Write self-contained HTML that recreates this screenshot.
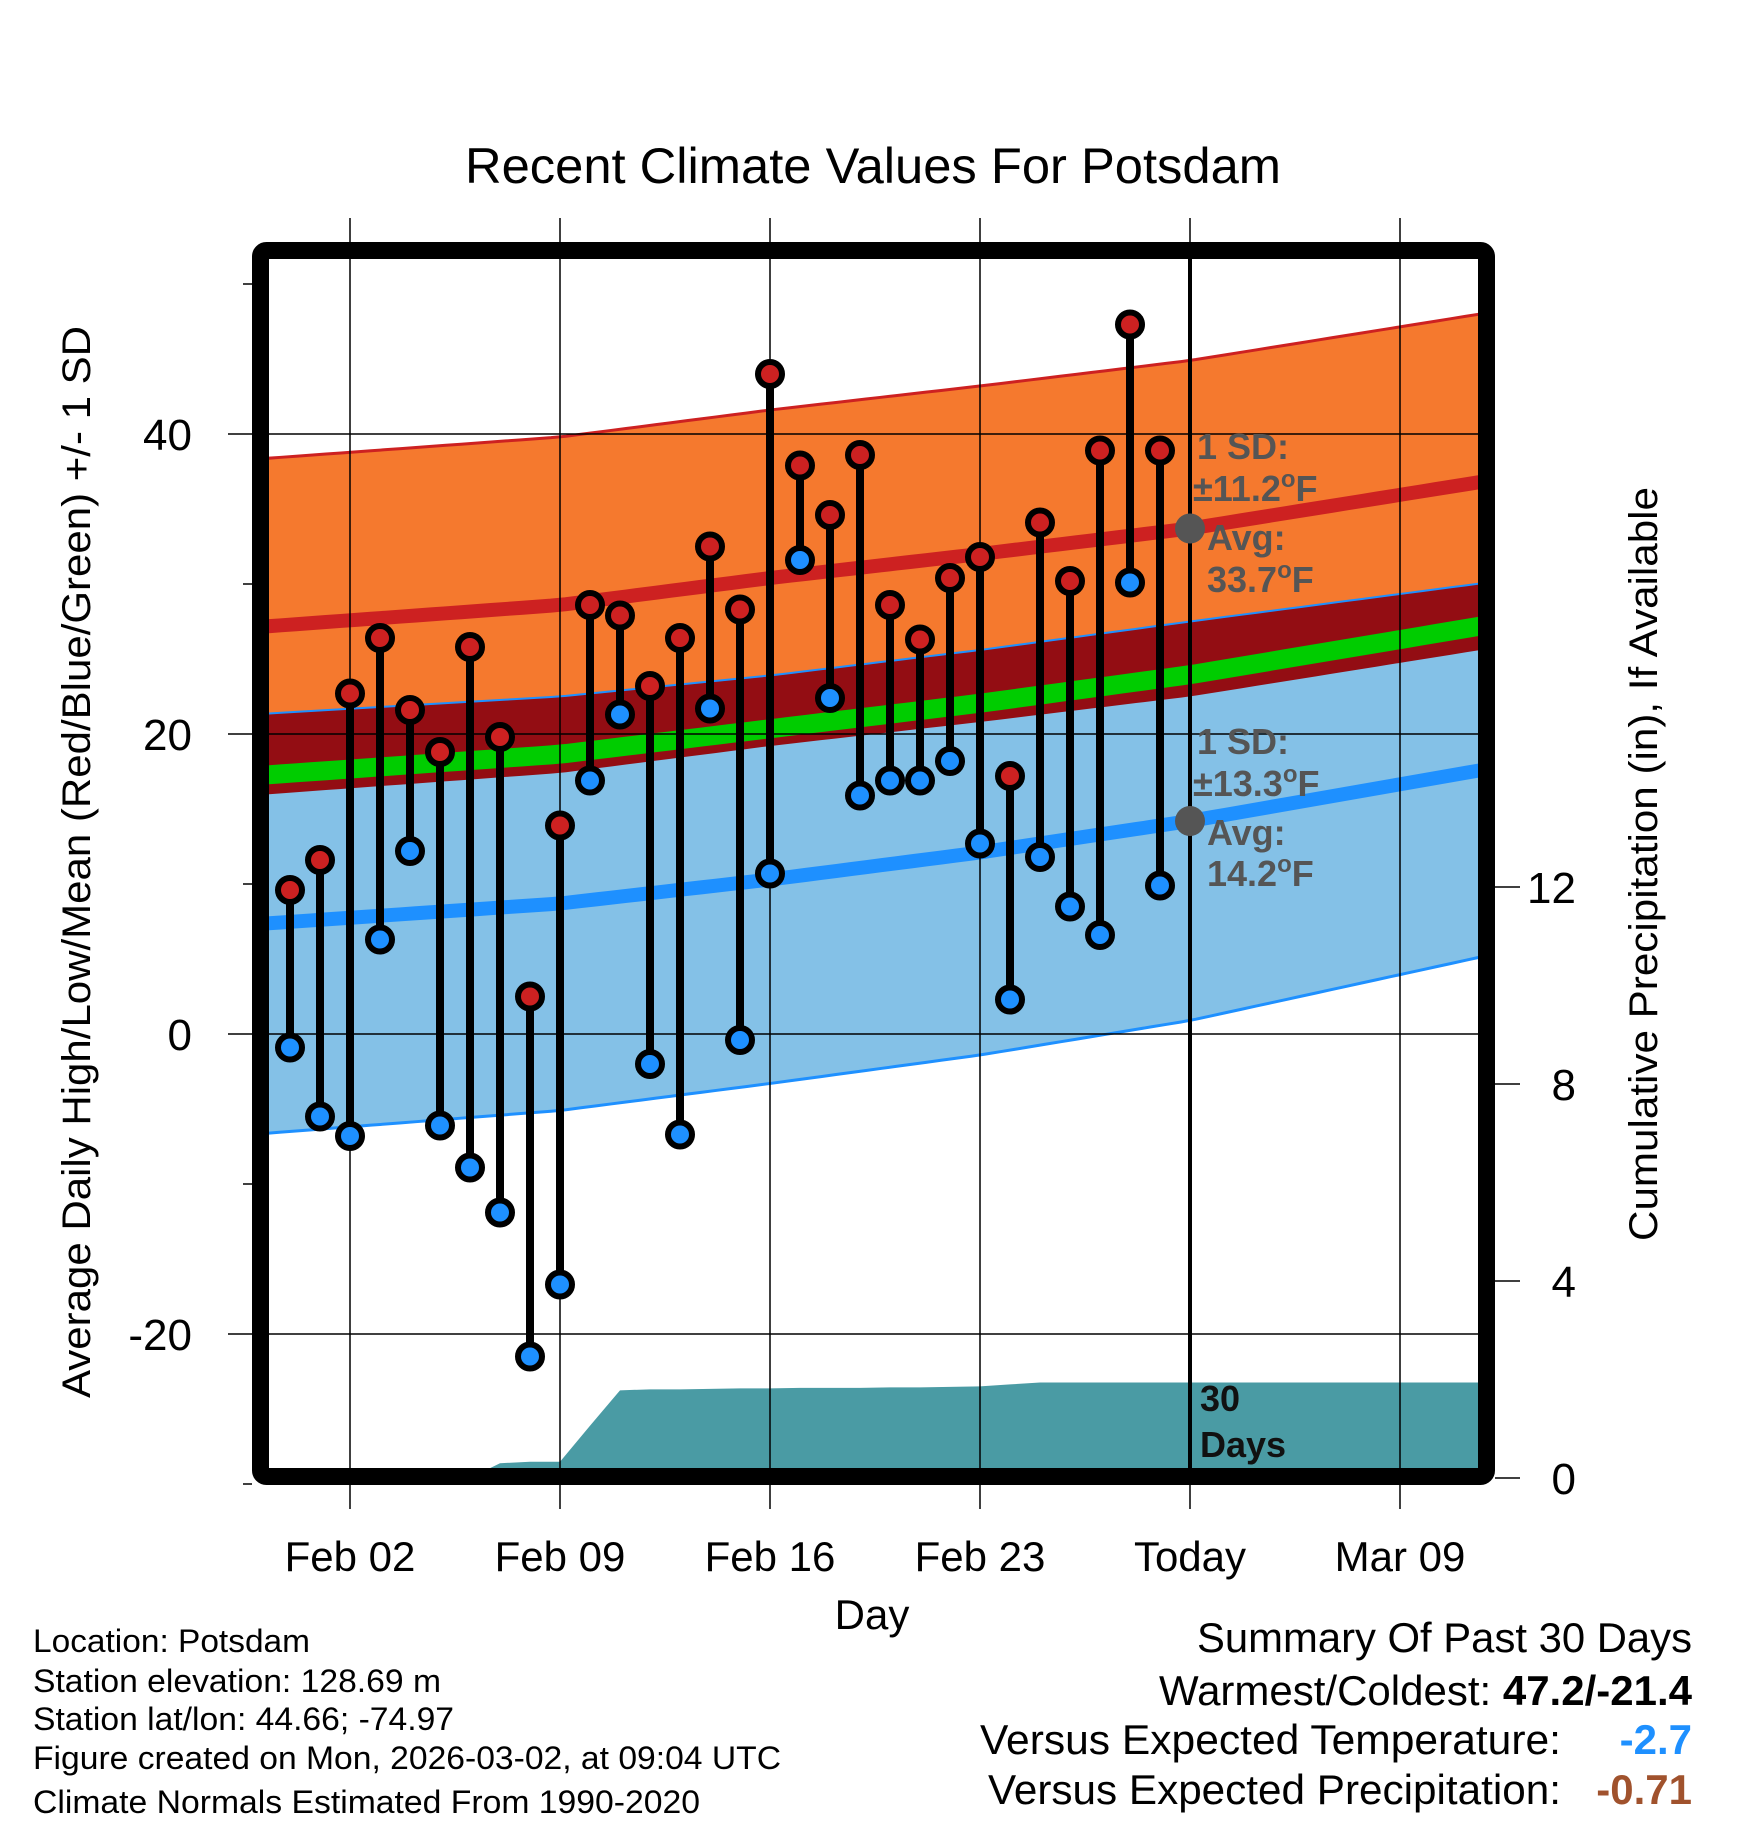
<!DOCTYPE html>
<html><head><meta charset="utf-8"><style>
html,body{margin:0;padding:0;background:#fff}
svg{display:block;font-family:"Liberation Sans",sans-serif}
</style></head><body>
<svg id="chart" width="1748" height="1828" viewBox="0 0 1748 1828">
<defs><clipPath id="pc"><rect x="269" y="259" width="1209" height="1209"/></clipPath></defs>
<g id="bands" clip-path="url(#pc)"></g>
<g id="grid"></g>
<g id="marks" clip-path="url(#pc)"></g>
<rect x="260.5" y="250.5" width="1226" height="1226" rx="6" fill="none" stroke="#000" stroke-width="17"/>
<g id="axes"></g>
<text x="873" y="183" text-anchor="middle" font-size="50" textLength="816" lengthAdjust="spacingAndGlyphs">Recent Climate Values For Potsdam</text>
<text x="872" y="1629" text-anchor="middle" font-size="42">Day</text>
<text transform="translate(90,862) rotate(-90)" text-anchor="middle" font-size="40" textLength="1072" lengthAdjust="spacingAndGlyphs">Average Daily High/Low/Mean (Red/Blue/Green) +/- 1 SD</text>
<text transform="translate(1657,864) rotate(-90)" text-anchor="middle" font-size="40" textLength="754" lengthAdjust="spacingAndGlyphs">Cumulative Precipitation (in), If Available</text>
<g font-weight="bold" font-size="36" fill="#555">
<text x="1197" y="459">1 SD:</text>
<text x="1193" y="501">±11.2<tspan font-size="24" dy="-14">o</tspan><tspan dy="14">F</tspan></text>
<text x="1207" y="550">Avg:</text>
<text x="1207" y="592">33.7<tspan font-size="24" dy="-14">o</tspan><tspan dy="14">F</tspan></text>
<text x="1197" y="754">1 SD:</text>
<text x="1193" y="796">±13.3<tspan font-size="24" dy="-14">o</tspan><tspan dy="14">F</tspan></text>
<text x="1207" y="845">Avg:</text>
<text x="1207" y="886">14.2<tspan font-size="24" dy="-14">o</tspan><tspan dy="14">F</tspan></text>
</g>
<g font-weight="bold" font-size="36" fill="#111">
<text x="1200" y="1411">30</text><text x="1200" y="1457">Days</text>
</g>
<g font-size="32">
<text x="33" y="1652" textLength="277" lengthAdjust="spacingAndGlyphs">Location: Potsdam</text>
<text x="33" y="1692" textLength="408" lengthAdjust="spacingAndGlyphs">Station elevation: 128.69 m</text>
<text x="33" y="1730" textLength="421" lengthAdjust="spacingAndGlyphs">Station lat/lon: 44.66; -74.97</text>
<text x="33" y="1769" textLength="748" lengthAdjust="spacingAndGlyphs">Figure created on Mon, 2026-03-02, at 09:04 UTC</text>
<text x="33" y="1813" textLength="667" lengthAdjust="spacingAndGlyphs">Climate Normals Estimated From 1990-2020</text>
</g>
<g font-size="42" text-anchor="end">
<text x="1692" y="1652" textLength="495" lengthAdjust="spacingAndGlyphs">Summary Of Past 30 Days</text>
<text x="1692" y="1705">Warmest/Coldest: <tspan font-weight="bold">47.2/-21.4</tspan></text>
<text x="1561" y="1754" textLength="581" lengthAdjust="spacingAndGlyphs">Versus Expected Temperature:</text>
<text x="1692" y="1754" font-weight="bold" fill="#1e90ff">-2.7</text>
<text x="1561" y="1804" textLength="573" lengthAdjust="spacingAndGlyphs">Versus Expected Precipitation:</text>
<text x="1692" y="1804" font-weight="bold" fill="#a0522d">-0.71</text>
</g>
</svg>
<script>
const highs=[9.6,11.6,22.7,26.4,21.6,18.8,25.8,19.8,2.5,13.9,28.6,27.9,23.2,26.4,32.5,28.3,44.0,37.9,34.6,38.6,28.6,26.3,30.4,31.8,17.2,34.1,30.2,38.9,47.3,38.9];
const lows=[-0.9,-5.5,-6.8,6.3,12.2,-6.1,-8.9,-11.9,-21.5,-16.7,16.9,21.3,-2.0,-6.7,21.7,-0.4,10.7,31.6,22.4,15.9,16.9,16.9,18.2,12.7,2.3,11.8,8.5,6.6,30.1,9.9];
const precip=[0,0,0,0,0,0,0,0.3,0.33,0.33,1.06,1.78,1.8,1.8,1.81,1.82,1.82,1.83,1.83,1.83,1.84,1.84,1.85,1.86,1.9,1.94,1.94,1.94,1.94,1.94];
const normDays=[-1.3,9,16,23,30,40.3];
const normHigh=[27.1,28.6,30.4,32.0,33.7,37.0];
const normLow=[7.3,8.7,10.3,12.1,14.2,17.8];
const sdHighArr=[11.2,11.2,11.2,11.2,11.2,11.2];
const sdLowArr=[14.0,13.8,13.6,13.5,13.3,12.4];
const xTickDays=[2,9,16,23,30,37];
const xTickLabels=["Feb 02","Feb 09","Feb 16","Feb 23","Today","Mar 09"];
const yTicks=[-20,0,20,40];
const yMinor=[-30,-10,10,30,50];
const pTicks=[0,4,8,12];
const todayDay=30;
const NS="http://www.w3.org/2000/svg";
const X=d=>290+30*d;
const Y=t=>1034-15*t;
const P=p=>1478-49.25*p;
function mk(tag,attrs,parent){const e=document.createElementNS(NS,tag);for(const k in attrs)e.setAttribute(k,attrs[k]);parent.appendChild(e);return e;}
function interp(arr,d){for(let i=0;i<normDays.length-1;i++){if(d<=normDays[i+1]||i==normDays.length-2){const f=(d-normDays[i])/(normDays[i+1]-normDays[i]);return arr[i]+f*(arr[i+1]-arr[i]);}}}
const bands=document.getElementById('bands'),grid=document.getElementById('grid'),marks=document.getElementById('marks'),axes=document.getElementById('axes');
const samp=[];for(let d=normDays[0];d<=normDays[normDays.length-1]+0.001;d+=0.5)samp.push(d);
const hi=d=>interp(normHigh,d),lo=d=>interp(normLow,d),sh=d=>interp(sdHighArr,d),sl=d=>interp(sdLowArr,d);
function bandPath(top,bot){let s='';samp.forEach((d,i)=>{s+=(i?'L':'M')+X(d)+','+Y(top(d));});for(let i=samp.length-1;i>=0;i--){s+='L'+X(samp[i])+','+Y(bot(samp[i]));}return s+'Z';}
function linePath(f){return samp.map((d,i)=>(i?'L':'M')+X(d)+','+Y(f(d))).join('');}
let e;
e=mk('path',{d:bandPath(d=>hi(d)+sh(d),d=>hi(d)-sh(d)),fill:'#f5792e'},bands);

e=mk('path',{d:bandPath(d=>lo(d)+sl(d),d=>lo(d)-sl(d)),fill:'#84c1e7'},bands);

e=mk('path',{d:bandPath(d=>lo(d)+sl(d),d=>Math.min(lo(d)+sl(d),hi(d)-sh(d))),fill:'#930d13'},bands);

e=mk('path',{d:linePath(d=>(hi(d)+lo(d))/2),fill:'none',stroke:'#00cc00',"stroke-width":19},bands);

e=mk('path',{d:linePath(d=>hi(d)+sh(d)),fill:'none',stroke:'#cd2121',"stroke-width":3},bands);

e=mk('path',{d:linePath(d=>lo(d)+sl(d)),fill:'none',stroke:'#1e90ff',"stroke-width":2},bands);

e=mk('path',{d:linePath(d=>lo(d)-sl(d)),fill:'none',stroke:'#1e90ff',"stroke-width":3},bands);

e=mk('path',{d:linePath(hi),fill:'none',stroke:'#cd2121',"stroke-width":14},bands);

e=mk('path',{d:linePath(lo),fill:'none',stroke:'#1e90ff',"stroke-width":14},bands);

let pd='M'+X(0)+','+P(0);precip.forEach((p,i)=>{pd+='L'+X(i)+','+P(p);});
pd+='L1478,'+P(precip[precip.length-1])+'L1478,1468L'+X(0)+',1468Z';
e=mk('path',{d:pd,fill:'#4a9ba4'},bands);

yTicks.forEach(t=>{e=mk('line',{x1:228,x2:1478,y1:Y(t),y2:Y(t),stroke:'#000',"stroke-width":1.5},grid);

e=mk('text',{x:192,y:Y(t)+16,"text-anchor":"end","font-size":44},axes);e.textContent=t;
});
yMinor.forEach(t=>{e=mk('line',{x1:243,x2:252,y1:Y(t),y2:Y(t),stroke:'#000',"stroke-width":1.5},grid);
});
xTickDays.forEach((d,i)=>{e=mk('line',{x1:X(d),x2:X(d),y1:218,y2:1509,stroke:'#000',"stroke-width":1.5},grid);

e=mk('text',{x:X(d),y:1571,"text-anchor":"middle","font-size":42},axes);e.textContent=xTickLabels[i];
});
pTicks.forEach(p=>{e=mk('line',{x1:1495,x2:1520,y1:P(p),y2:P(p),stroke:'#000',"stroke-width":1.5},axes);

e=mk('text',{x:1576,y:P(p)+16,"text-anchor":"end","font-size":44},axes);e.textContent=p;
});
e=mk('line',{x1:X(todayDay),x2:X(todayDay),y1:259,y2:1468,stroke:'#000',"stroke-width":4},marks);

highs.forEach((h,i)=>{e=mk('line',{x1:X(i),x2:X(i),y1:Y(h),y2:Y(lows[i]),stroke:'#000',"stroke-width":8},marks);
});
highs.forEach((h,i)=>{e=mk('circle',{cx:X(i),cy:Y(h),r:12,fill:'#cd2121',stroke:'#000',"stroke-width":6},marks);

e=mk('circle',{cx:X(i),cy:Y(lows[i]),r:12,fill:'#1e90ff',stroke:'#000',"stroke-width":6},marks);
});
e=mk('circle',{cx:X(todayDay),cy:Y(hi(todayDay)),r:15,fill:'#555'},marks);

e=mk('circle',{cx:X(todayDay),cy:Y(lo(todayDay)),r:15,fill:'#555'},marks);

</script>
</body></html>
